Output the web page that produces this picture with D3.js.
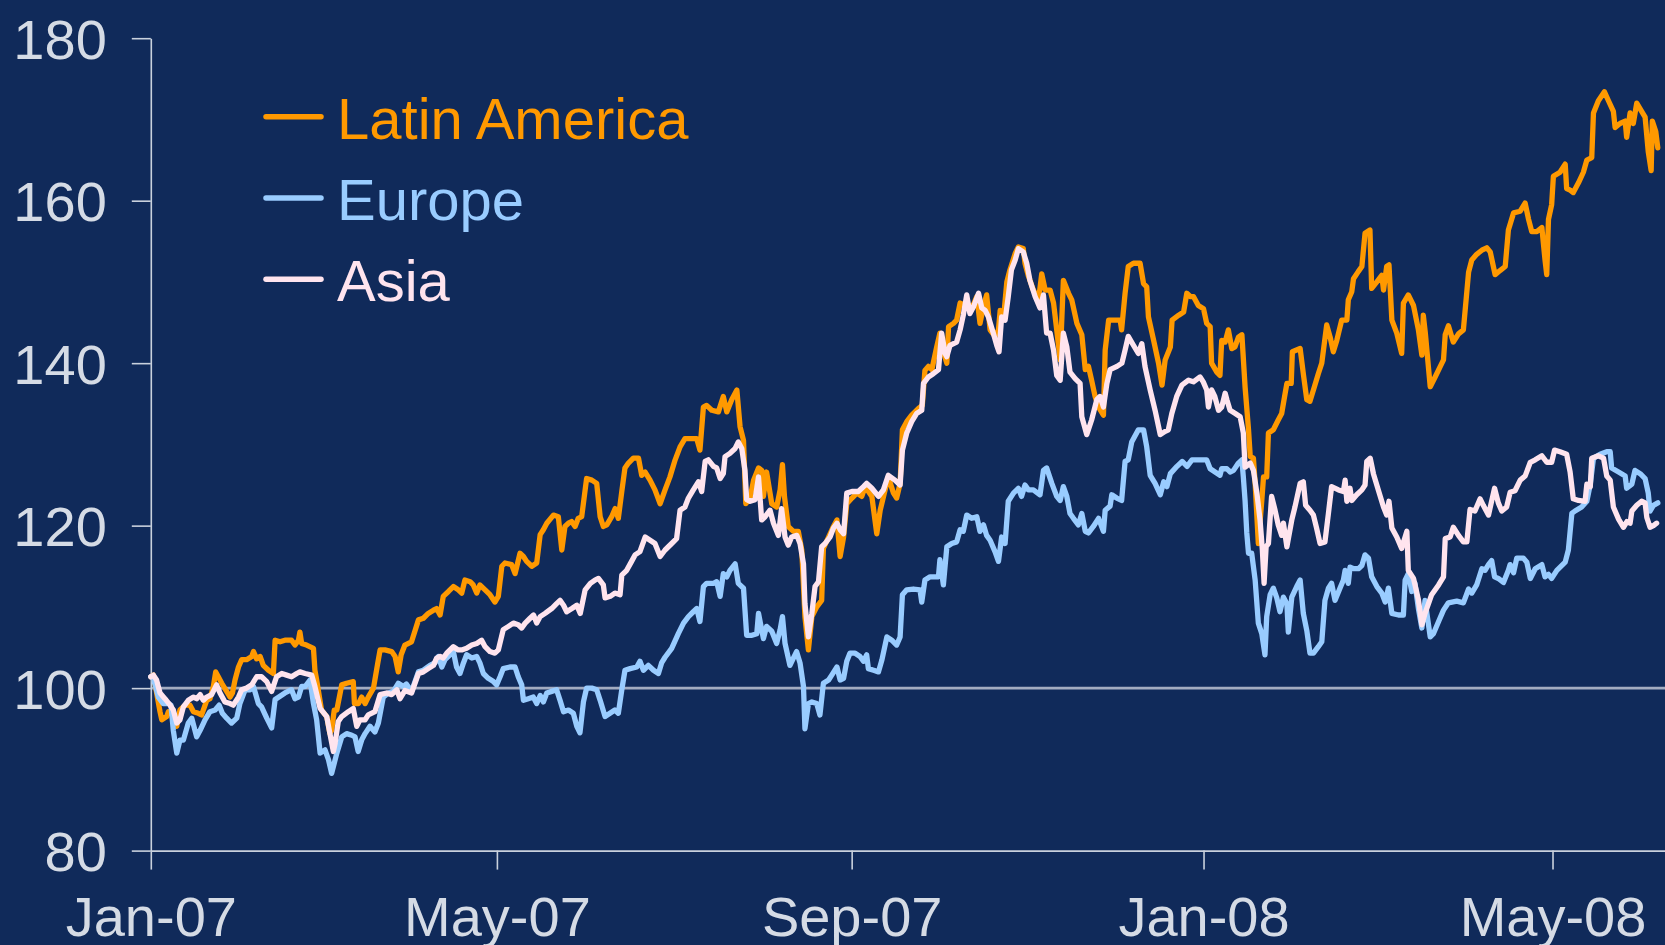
<!DOCTYPE html>
<html>
<head>
<meta charset="utf-8">
<script src="https://cdn.jsdelivr.net/npm/d3@7"></script>
<style>
  html, body { margin: 0; padding: 0; background: #102A5A; }
  svg { display: block; }
</style>
</head>
<body>
<svg id="chart" width="1665" height="945"></svg>
<script>
// ---------------- DATA ----------------
// Positions along time are given as days since 1 Jan 2007.
const startDate = "2007-01-01";
const xDomain = ["2007-01-01", "2008-06-09"];
const seriesNames = ["Latin America", "Europe", "Asia"];
const yTicks = [80, 100, 120, 140, 160, 180];
const xTickDates = ["2007-01-01", "2007-05-01", "2007-09-01", "2008-01-01", "2008-05-01"];
const xTickLabels = ["Jan-07", "May-07", "Sep-07", "Jan-08", "May-08"];
const baseLevel = 100;

const latamDays = [0,0.9,3.2,3.8,5.5,6.1,7.8,9.0,10.1,11.9,13.6,14.8,16.5,17.6,18.2,19.4,20.5,21.7,22.5,23.4,24.6,26.3,27.5,28.3,29.2,30.4,31.5,33.2,35.0,35.6,36.7,37.9,39.0,40.8,42.5,43.1,44.8,46.5,48.8,50.0,51.2,51.7,52.3,54.0,56.4,56.9,57.5,59.2,61.0,62.1,62.7,63.6,64.5,66.2,67.9,70.2,70.6,72.0,73.1,74.3,75.4,77.2,78.7,79.5,81.2,83.5,84.7,85.8,86.8,88.1,90.4,92.8,94.5,96.2,98.0,99.1,100.3,101.4,103.2,104.9,106.6,107.8,108.9,110.7,111.8,113.0,114.1,115.9,117.6,119.3,120.5,121.7,122.8,125.1,126.3,128.0,129.2,130.3,132.1,133.8,135.0,136.1,137.3,139.6,141.3,142.5,143.6,144.8,145.9,147.1,148.2,149.4,151.1,152.9,154.6,155.8,156.9,158.1,159.8,161.0,162.1,163.3,164.4,165.6,167.3,169.1,170.2,171.4,173.1,174.8,176.6,178.3,180.0,181.8,183.5,185.2,187.0,189.3,190.4,191.6,192.7,194.5,196.8,198.5,199.7,201.4,203.2,204.3,205.5,206.3,207.8,209.0,210.7,211.8,212.4,213.5,215.3,217.0,218.2,219.0,219.7,221.0,222.8,224.5,225.7,226.8,228.0,229.2,230.9,232.6,233.2,235.0,236.7,237.9,239.0,240.2,241.3,243.1,244.8,246.5,247.7,250.0,251.7,252.9,254.6,255.7,257.5,258.6,259.8,260.6,262.1,263.8,266.1,267.5,268.4,269.6,270.8,272.5,273.6,274.8,276.0,276.6,278.3,279.4,280.6,281.7,283.5,285.2,286.4,287.5,288.7,289.8,291.0,292.7,293.9,294.5,295.6,296.8,297.9,299.7,300.8,302.5,303.1,304.3,306.0,307.8,308.9,310.1,311.8,313.0,314.1,315.3,316.4,318.2,319.3,321.1,322.8,324.0,325.1,326.2,327.4,328.6,330.3,330.9,332.1,334.4,336.1,336.6,337.8,338.9,340.7,343.0,344.2,345.3,345.9,347.7,349.4,350.6,351.7,353.5,354.1,356.4,358.1,359.2,360.4,361.5,363.2,365.0,366.1,367.3,367.8,369.6,370.7,371.3,372.5,373.6,374.8,375.9,377.1,378.3,379.4,380.6,381.2,382.3,382.9,384.0,385.2,385.8,386.9,387.5,389.2,390.9,392.1,393.3,393.9,395.4,395.8,398.5,399.6,400.8,401.9,403.1,404.8,406.0,407.7,408.9,410.0,411.2,412.9,414.7,415.2,416.4,417.0,418.7,419.9,421.0,422.7,423.3,425.1,426.8,427.4,428.5,429.3,430.3,432.0,433.7,434.3,436.0,437.8,439.5,440.7,441.2,441.9,443.6,445.3,447.1,448.2,448.8,449.9,451.6,453.4,455.1,456.9,458.0,459.7,461.5,463.2,464.4,466.1,467.8,469.6,470.7,472.5,474.8,476.5,477.7,478.8,480.6,482.3,483.4,484.0,484.6,485.7,486.3,488.6,490.4,490.9,492.1,493.2,495.0,496.7,497.9,499.6,500.2,501.9,504.0,505.4,507.1,507.7,509.4,511.2,511.7,512.9,514.0,515.2,516.9,518.1,519.2,520.2,520.6,521.8,522.5];
const latamValues = [101.4,101.6,97.1,96.1,96.5,97.1,96.7,95.3,97.3,97.9,97.9,97.1,96.9,96.7,97.3,98.5,98.7,100.2,102.0,101.4,100.6,99.6,98.9,99.4,101.0,102.6,103.5,103.5,103.9,104.5,103.6,103.9,102.8,102.2,101.8,105.9,105.7,105.9,105.9,105.3,105.9,106.9,105.5,105.3,104.9,102.2,101.0,97.3,96.5,94.4,94.8,97.3,97.3,100.4,100.6,100.8,98.1,98.1,98.9,98.1,98.9,100.0,103.1,104.7,104.7,104.5,103.9,102.0,104.1,105.3,105.7,108.4,108.6,109.2,109.6,109.8,109.0,111.3,111.9,112.5,112.1,111.7,113.3,113.1,112.7,111.7,112.7,112.1,111.5,110.6,111.3,115.0,115.4,115.2,114.1,116.6,116.2,115.6,115.0,115.4,118.9,119.5,120.3,121.3,121.1,117.0,119.9,120.3,120.5,119.9,120.9,121.1,125.8,125.6,125.2,121.1,119.9,120.1,121.1,122.1,120.9,124.2,127.1,127.7,128.3,128.3,126.2,126.6,125.6,124.4,122.7,124.4,126.0,128.1,129.7,130.7,130.7,130.7,129.3,134.6,134.8,134.2,134.0,135.9,134.0,135.5,136.7,132.2,130.5,122.7,123.4,125.6,127.1,126.8,123.6,126.6,122.7,122.3,124.4,127.5,123.6,119.9,119.3,119.3,117.0,108.8,104.7,108.8,110.0,110.8,117.2,118.6,119.9,120.7,116.2,118.6,122.7,123.4,124.0,123.6,124.8,123.6,119.0,121.9,124.4,126.0,124.0,123.4,125.2,131.8,132.8,133.6,134.4,134.8,139.1,139.6,139.2,142.0,143.7,141.4,140.0,144.5,144.9,145.3,147.4,147.2,146.8,147.2,148.2,144.9,147.0,148.4,144.1,143.3,144.1,146.5,145.3,150.0,151.5,153.5,154.3,154.1,152.3,150.7,149.0,147.8,151.0,149.0,149.0,147.4,144.1,140.4,150.2,148.6,147.8,144.9,143.5,139.2,139.6,137.9,135.9,134.6,133.6,141.6,145.3,145.3,145.3,144.1,148.6,151.9,152.3,152.3,149.8,149.4,145.7,142.8,140.0,137.3,140.4,142.0,145.3,145.9,146.3,148.6,148.2,148.2,147.1,146.7,144.9,144.5,140.0,138.9,138.5,142.8,142.6,144.1,141.8,142.0,143.2,143.5,137.1,131.8,128.5,128.3,125.2,117.8,123.1,126.0,126.0,131.4,131.8,133.0,133.8,136.3,137.5,137.5,141.4,141.8,138.7,135.5,135.3,136.7,138.7,140.0,144.7,143.2,141.4,142.8,145.3,145.3,147.8,148.8,150.4,151.3,151.9,156.0,156.4,149.2,150.0,150.8,149.0,151.9,152.1,145.3,143.7,141.2,147.4,148.4,147.1,144.1,141.0,145.9,143.7,137.1,138.3,139.6,140.4,143.5,144.6,142.6,143.6,144.1,151.2,152.7,153.4,153.9,154.2,153.7,150.9,151.4,151.9,156.4,158.5,158.7,159.7,157.7,156.2,156.2,156.7,152.7,150.9,157.7,159.5,163.0,163.5,164.5,161.5,161.3,161.0,162.2,163.5,165.0,165.3,170.8,172.3,173.4,172.3,171.0,169.0,169.5,169.8,167.8,170.8,169.5,172.0,171.0,170.3,166.0,163.7,169.8,168.5,166.5];

const europeDays = [0,0.9,2.6,4.3,6.1,7.0,7.8,9.0,10.1,11.3,13.0,14.2,15.9,17.1,18.8,20.5,22.3,23.7,24.8,26.3,28.0,29.8,30.9,32.7,34.4,35.6,37.3,38.4,40.2,41.9,43.1,44.8,46.5,48.8,50.0,51.2,52.3,53.5,55.2,56.4,57.5,58.7,60.4,61.6,62.7,64.5,66.2,67.9,69.7,70.8,71.9,73.1,74.3,76.0,77.7,78.9,80.6,82.4,84.1,85.8,87.6,88.6,90.4,92.8,94.5,96.8,98.5,99.7,100.9,102.0,103.7,104.9,106.0,107.2,108.4,109.5,111.3,113.0,114.1,115.3,117.0,118.8,119.9,121.1,122.2,124.5,126.3,127.4,128.6,129.2,130.9,132.6,133.8,135.0,136.1,137.3,139.0,140.7,141.9,143.1,144.8,146.5,147.7,148.8,150.0,151.1,152.9,154.6,155.8,157.5,159.2,160.9,162.1,163.3,164.4,166.2,168.5,169.6,170.8,172.5,174.3,176.0,177.1,178.3,180.6,182.9,184.7,186.4,188.1,189.3,190.4,191.6,192.7,195.1,196.2,197.4,198.5,199.7,200.8,202.6,203.7,205.5,206.6,208.4,210.1,210.7,212.4,213.5,215.3,217.0,218.2,219.0,219.9,221.6,222.8,223.9,225.1,226.3,226.8,228.0,229.2,230.9,232.0,233.2,235.0,236.1,237.9,239.0,240.2,241.3,242.4,244.2,245.9,247.1,248.2,248.8,250.6,252.3,253.5,255.2,256.9,258.6,259.8,260.6,262.1,264.4,266.7,267.3,268.4,270.2,273.1,273.6,274.8,276.0,277.7,279.4,280.6,281.7,282.9,284.6,286.4,287.5,288.7,289.8,291.0,292.7,293.9,295.0,296.2,297.3,299.1,300.8,301.9,303.1,304.3,306.0,308.3,309.5,310.6,312.4,314.1,315.3,316.4,317.6,318.7,319.9,321.6,322.8,324.0,325.1,326.8,328.6,330.3,330.9,332.6,333.2,334.9,336.6,337.8,338.9,340.1,342.4,344.2,345.3,346.5,348.2,350.0,351.2,352.3,353.5,355.8,357.6,359.3,361.0,363.2,366.1,367.3,369.0,370.7,371.3,373.1,374.2,375.4,377.1,378.3,378.8,379.4,380.0,380.6,381.7,382.9,384.0,385.2,386.3,386.9,388.1,389.2,390.4,391.5,392.7,393.9,394.4,395.6,397.3,398.5,399.6,400.8,401.9,403.1,404.8,406.0,407.1,408.3,409.4,410.6,412.3,413.5,414.1,415.2,415.8,417.0,418.7,419.9,421.0,422.2,423.3,425.1,426.8,428.0,429.1,430.3,432.6,434.3,434.9,436.0,437.2,438.3,439.5,440.7,441.8,443.6,444.7,446.5,448.2,449.9,452.8,455.1,456.9,458.0,459.7,461.5,462.6,463.8,464.9,465.9,467.2,469.0,470.7,471.3,472.5,473.6,475.9,477.1,478.3,480.0,482.3,483.4,484.6,485.7,487.5,490.4,491.5,492.7,493.8,496.1,497.9,499.1,500.2,502.5,504.8,506.0,506.5,508.9,511.2,511.7,513.5,514.6,516.4,518.1,519.2,519.8,521.0,522.5];
const europeValues = [101.4,101.2,98.9,98.1,98.1,97.9,94.8,92.0,93.6,93.6,95.7,96.3,94.0,94.8,96.1,97.1,97.3,97.9,96.9,96.3,95.7,96.3,98.1,99.8,99.8,100.2,98.1,97.7,96.3,95.1,98.6,99.0,99.4,99.8,98.7,98.9,100.2,100.2,101.0,98.1,96.1,92.0,92.4,91.2,89.5,92.0,94.0,94.4,94.2,94.0,92.2,93.6,94.4,95.3,94.6,95.7,98.9,99.4,99.6,100.6,100.2,100.5,99.6,102.0,102.2,102.8,103.1,103.9,102.6,103.5,104.1,104.5,102.6,101.8,103.1,104.1,103.7,103.9,103.1,101.8,101.2,100.8,100.4,101.4,102.4,102.6,102.6,101.4,100.4,98.5,98.7,98.9,98.1,99.1,98.3,99.4,99.6,99.8,98.5,97.1,97.3,96.9,95.3,94.5,98.3,100.0,100.0,99.8,98.5,96.5,96.9,97.3,96.9,99.8,102.2,102.4,102.6,103.3,102.2,102.8,102.2,101.8,103.1,103.8,104.9,106.7,108.0,108.8,109.4,109.8,108.2,112.5,112.9,112.9,113.1,111.3,114.1,113.7,114.5,115.3,112.9,112.3,106.5,106.5,106.7,109.2,106.1,107.6,107.0,105.5,107.2,108.8,105.5,102.8,103.7,104.5,103.1,100.2,95.0,98.1,98.3,98.1,96.7,100.6,101.0,101.6,102.6,101.0,101.2,103.3,104.3,104.3,103.9,103.3,104.1,102.4,102.2,102.0,103.5,106.3,105.9,105.3,106.3,111.5,112.1,112.2,112.1,110.6,113.3,113.7,113.7,115.8,112.7,117.4,117.8,118.0,119.5,119.3,121.3,120.9,121.1,119.3,120.1,118.8,118.2,116.8,115.6,118.6,117.8,123.0,124.0,124.6,123.6,125.0,124.4,124.4,123.8,126.8,127.1,125.2,123.6,123.1,124.8,123.6,121.5,120.9,120.1,121.5,119.3,119.1,119.9,120.9,119.3,121.9,122.4,123.8,123.4,123.1,127.9,128.1,130.3,131.8,131.8,129.7,126.2,125.2,123.8,125.4,124.8,126.4,127.3,127.9,127.3,128.1,128.1,128.1,127.0,126.6,126.2,127.0,127.0,126.6,126.8,127.7,128.1,126.0,123.1,119.1,116.6,116.6,113.3,108.0,106.7,104.1,108.8,111.5,112.3,111.1,109.4,111.2,110.4,106.9,111.2,112.5,113.3,109.2,107.1,104.3,104.3,105.1,105.7,110.8,112.3,112.9,110.8,112.3,113.3,114.5,112.9,114.9,114.7,114.7,115.1,116.4,116.0,113.7,112.5,111.7,110.6,112.3,109.2,109.0,109.0,113.3,114.1,111.9,112.9,109.8,107.4,110.8,106.3,106.7,108.2,109.6,110.5,110.7,110.5,112.2,111.7,112.7,114.7,114.5,115.2,115.7,113.7,113.5,113.0,114.5,115.2,114.2,116.0,116.0,115.5,113.5,114.7,115.2,113.7,114.0,113.5,114.5,115.5,117.0,121.5,121.8,122.3,123.0,125.1,128.3,128.8,129.1,129.1,127.1,126.6,126.1,124.6,125.1,126.8,126.4,125.8,124.0,121.8,122.5,122.8];

const asiaDays = [0,0.9,2.0,3.2,4.9,6.7,7.8,9.0,10.1,11.3,13.0,14.8,15.9,17.1,18.2,19.4,21.1,22.8,24.0,25.7,27.5,28.6,30.4,31.5,33.2,35.0,36.7,38.4,40.2,41.9,43.6,45.4,47.1,48.8,50.6,51.7,53.5,55.8,56.9,58.7,61.0,62.1,63.3,63.9,65.0,66.2,68.5,70.2,71.4,72.5,74.3,75.4,77.7,79.5,81.8,83.5,85.3,86.4,88.1,90.4,92.8,94.5,96.2,98.0,99.1,100.3,101.4,102.6,104.9,106.6,107.8,109.5,111.3,113.0,114.7,115.9,117.6,119.3,120.5,122.2,124.0,125.7,127.4,128.6,129.8,131.5,132.7,133.8,135.0,136.7,139.0,140.7,141.9,143.1,144.2,146.0,147.7,148.9,150.6,152.4,154.0,155.2,156.9,157.5,159.3,160.9,162.7,163.3,165.0,166.7,167.9,169.6,171.4,173.1,174.8,176.6,178.3,180.6,182.3,183.5,185.2,186.4,188.1,189.9,191.0,192.2,193.3,195.1,196.2,197.4,198.5,199.1,200.8,202.6,203.7,204.9,206.0,206.6,207.8,209.5,210.7,211.8,213.0,214.7,215.9,217.6,218.7,219.9,221.0,222.2,224.0,225.1,226.3,226.8,228.0,229.2,230.3,231.5,232.6,233.8,235.5,236.7,237.9,239.0,240.2,241.3,243.1,245.3,247.1,248.2,250.0,252.3,254.0,255.7,258.0,259.8,260.6,262.1,263.8,265.5,267.3,267.9,269.6,271.3,273.1,274.2,275.4,276.0,277.1,279.4,280.6,281.7,282.9,284.0,285.2,287.0,288.1,289.3,290.4,292.1,293.3,294.1,295.0,296.2,297.3,298.4,299.7,300.8,302.5,303.7,304.8,306.6,308.3,309.5,310.6,311.8,313.0,314.1,315.3,316.4,317.6,318.7,320.5,322.2,322.8,324.5,326.2,328.0,329.1,330.3,331.5,332.6,335.0,336.7,337.8,338.9,340.7,342.4,343.6,344.7,346.5,348.2,350.0,351.7,352.8,354.0,355.7,357.5,359.8,361.5,363.8,364.9,366.1,366.7,367.8,368.9,370.2,371.3,372.5,373.1,374.2,376.0,377.7,378.8,379.4,381.2,382.3,383.5,384.6,385.4,386.0,386.7,387.5,388.6,389.8,390.9,392.1,392.7,393.9,395.6,396.7,398.5,399.6,400.4,401.9,403.1,404.2,405.4,407.1,408.3,409.4,411.8,413.5,414.1,414.7,415.2,415.8,416.4,418.1,419.9,421.0,421.6,422.8,423.9,425.6,427.4,428.5,429.3,430.3,432.0,433.7,435.5,436.0,437.8,439.5,440.7,441.8,444.1,446.5,448.2,448.8,450.5,451.6,453.4,455.1,456.3,457.4,459.1,460.9,462.0,463.8,465.9,467.2,468.4,470.1,471.3,473.0,474.8,476.5,478.3,480.0,482.3,484.0,485.7,486.7,488.6,490.9,492.1,493.2,495.0,497.3,497.9,499.1,499.6,501.9,503.7,504.8,506.0,507.1,508.9,510.6,511.8,512.9,513.5,515.2,516.9,518.1,518.7,519.8,521.0,522.1];
const asiaValues = [101.4,101.6,101.0,99.4,98.7,97.9,97.3,95.7,96.1,97.7,98.5,98.9,98.7,99.2,98.5,98.9,99.2,100.4,99.4,98.3,98.1,97.9,98.9,99.8,100.0,100.4,101.4,101.4,100.8,99.6,101.4,101.8,101.6,101.4,101.8,102.0,101.8,101.6,100.2,97.5,96.5,94.4,92.2,93.2,95.9,96.5,97.1,97.5,95.3,96.1,96.1,96.7,97.1,99.2,99.4,99.2,99.8,98.7,99.7,99.4,101.8,102.0,102.4,102.8,103.7,103.9,103.7,104.3,105.1,104.7,104.7,104.9,105.3,105.5,105.9,105.1,104.5,104.3,104.7,107.2,107.6,108.0,107.8,107.4,108.0,108.6,109.0,108.0,108.8,109.2,109.8,110.4,110.8,110.2,109.4,109.8,110.2,109.2,112.1,112.9,113.3,113.5,112.7,111.1,111.3,111.7,111.5,113.9,114.5,115.6,116.4,116.8,118.6,118.2,117.8,116.2,117.0,117.8,118.4,121.9,122.3,123.4,124.4,125.4,124.2,127.9,128.1,127.3,127.1,125.8,126.4,128.5,128.9,129.5,130.3,129.5,126.8,123.2,123.0,123.2,126.0,120.7,121.1,121.9,120.3,118.8,122.1,118.6,117.6,118.6,118.8,117.8,115.3,110.4,106.3,109.2,112.5,113.1,117.4,117.8,118.6,119.7,120.3,119.5,119.0,124.0,124.2,124.2,124.8,125.2,124.6,123.6,124.4,126.2,125.6,125.0,129.3,131.4,132.8,133.8,134.2,137.5,138.3,138.7,139.2,143.7,141.2,140.8,142.2,142.6,144.1,145.9,148.4,146.1,146.9,148.6,146.8,146.5,145.7,143.7,142.2,141.4,145.7,145.3,148.2,151.5,152.7,154.1,153.7,152.3,150.2,148.2,146.8,148.4,143.7,143.7,141.6,138.5,137.9,143.7,142.0,138.9,138.1,137.5,133.4,131.2,133.0,135.5,135.9,134.6,137.5,139.2,139.6,140.0,141.6,143.3,142.2,141.2,142.4,139.6,136.7,134.2,131.2,131.6,131.8,133.8,135.9,137.3,137.9,137.7,138.3,137.7,136.7,134.6,136.7,135.9,134.2,134.6,136.3,135.5,134.2,133.8,133.4,131.4,127.2,127.7,126.8,124.0,120.7,117.0,112.9,117.4,117.8,123.6,121.9,120.1,118.8,120.3,117.4,120.7,122.3,125.2,125.4,122.5,121.9,121.3,119.7,117.8,118.0,121.5,124.8,124.4,124.2,125.6,123.0,124.0,124.6,123.1,123.8,124.4,125.0,127.9,128.3,126.4,124.4,122.3,121.3,123.0,119.7,118.6,117.2,119.3,114.5,113.5,110.9,107.8,109.2,111.5,112.7,113.7,118.4,118.6,119.8,118.8,118.0,118.0,122.0,121.8,123.3,122.5,121.3,124.6,122.8,121.8,122.3,124.1,124.3,125.6,126.1,127.8,128.1,128.6,127.8,127.8,129.3,129.1,128.8,126.6,123.3,123.1,123.0,125.1,124.8,128.3,128.6,128.3,126.1,125.6,122.3,120.8,119.8,120.5,120.3,121.8,122.5,123.0,122.8,121.0,119.8,120.0,120.3];

// ---------------- STYLE ----------------
const colors = ["#FF9900", "#99CCFF", "#FFE4EE"];
const bg = "#102A5A";
const axisColor = "#C9D1DD";
const textColor = "#D5DBE5";
const fontFamily = "'Liberation Sans', Arial, Helvetica, sans-serif";

// ---------------- CHART ----------------
const W = 1665, H = 945;
const plot = { left: 150.8, right: 1665, top: 38.2, bottom: 850.6 };

const svg = d3.select("#chart");
svg.append("rect").attr("width", W).attr("height", H).attr("fill", bg);

const parse = d3.utcParse("%Y-%m-%d");
const t0 = parse(startDate);
const dayToDate = d => new Date(t0.getTime() + d * 864e5);

const x = d3.scaleUtc().domain(xDomain.map(parse)).range([plot.left, plot.right]);
const y = d3.scaleLinear().domain([d3.min(yTicks), d3.max(yTicks)]).range([plot.bottom, plot.top]);

// reference line at 100
svg.append("line")
  .attr("x1", plot.left).attr("x2", plot.right)
  .attr("y1", y(baseLevel)).attr("y2", y(baseLevel))
  .attr("stroke", "#A3ACC1").attr("stroke-width", 2.8);

// axes
const yAxis = d3.axisLeft(y).tickValues(yTicks).tickSize(19).tickPadding(25).tickSizeOuter(0);
const xAxis = d3.axisBottom(x)
  .tickValues(xTickDates.map(parse))
  .tickFormat((d, i) => xTickLabels[i])
  .tickSize(19).tickPadding(27).tickSizeOuter(0);

const gx = svg.append("g").attr("transform", `translate(0,${plot.bottom})`).call(xAxis);
const gy = svg.append("g").attr("transform", `translate(${plot.left},0)`).call(yAxis);

[gx, gy].forEach(g => {
  g.select(".domain").attr("stroke", axisColor).attr("stroke-width", 1.6);
  g.selectAll(".tick line").attr("stroke", axisColor).attr("stroke-width", 1.6);
  g.selectAll(".tick text")
    .attr("fill", textColor)
    .style("font-family", fontFamily)
    .style("font-size", "56px");
});
gy.selectAll(".tick text").attr("dy", "0.36em");

// series
const series = [
  { name: seriesNames[0], days: latamDays, values: latamValues, color: colors[0] },
  { name: seriesNames[1], days: europeDays, values: europeValues, color: colors[1] },
  { name: seriesNames[2], days: asiaDays, values: asiaValues, color: colors[2] }
];

const line = d3.line()
  .x(d => x(dayToDate(d[0])))
  .y(d => y(d[1]));

series.forEach(s => {
  const pts = s.days.map((d, i) => [d, s.values[i]]);
  svg.append("path")
    .datum(pts)
    .attr("d", line)
    .attr("fill", "none")
    .attr("stroke", s.color)
    .attr("stroke-width", 5.3)
    .attr("stroke-linejoin", "round")
    .attr("stroke-linecap", "round");
});

// legend
const legend = svg.append("g");
series.forEach((s, i) => {
  const ly = 116.8 + i * 81.2;
  legend.append("line")
    .attr("x1", 266).attr("x2", 321)
    .attr("y1", ly).attr("y2", ly)
    .attr("stroke", s.color).attr("stroke-width", 5.5)
    .attr("stroke-linecap", "round");
  legend.append("text")
    .attr("x", 337).attr("y", ly).attr("dy", "0.38em")
    .attr("fill", s.color)
    .style("font-family", fontFamily)
    .style("font-size", "58px")
    .text(s.name);
});
</script>
</body>
</html>
